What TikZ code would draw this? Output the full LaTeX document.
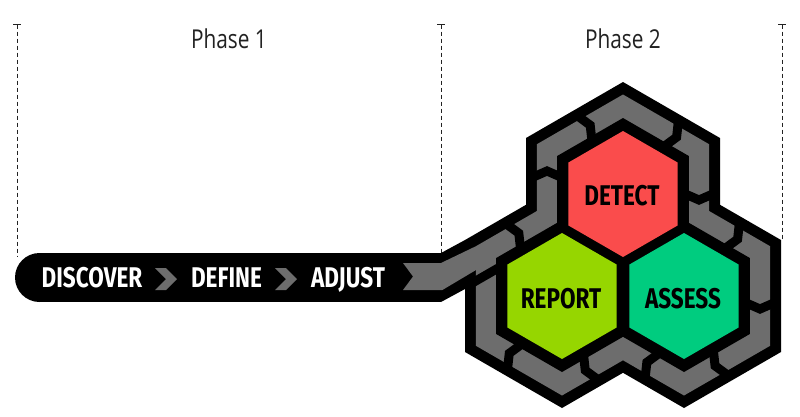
\documentclass[tikz,border=0pt]{standalone}
\usepackage{fontspec}
\newfontfamily\hexfont[FakeStretch=0.79]{Fira Sans}
\newfontfamily\phfont[FakeStretch=0.8]{Open Sans}
\usetikzlibrary{calc}
\definecolor{trackgray}{HTML}{6D6D6D}
\definecolor{detectred}{HTML}{FA4C4C}
\definecolor{reportlime}{HTML}{96D600}
\definecolor{assessgreen}{HTML}{00CC7F}
\definecolor{guide}{HTML}{222222}
\newcommand{\hexat}[2]{($(#1)+(-90:#2)$) -- ($(#1)+(-30:#2)$) -- ($(#1)+(30:#2)$) -- ($(#1)+(90:#2)$) -- ($(#1)+(150:#2)$) -- ($(#1)+(210:#2)$) -- cycle}
\newcommand{\trackbreak}[3]{\draw[brkline] ($(#1)+(#2:60)+(#2+90:#3)$) -- ($(#1)+(#2:76)+(#2+90:#3+7)$) -- ($(#1)+(#2:92)+(#2+90:#3)$);}
\tikzset{
  guideline/.style={draw=guide, line width=1pt, dash pattern=on 4pt off 3pt},
  guidecap/.style={draw=guide, line width=1pt},
  phaselabel/.style={font=\phfont\fontsize{26}{30}\selectfont, text=guide, anchor=base, inner sep=0pt},
  barlabel/.style={font=\hexfont\bfseries\fontsize{28.5}{30}\selectfont, text=white, anchor=base, inner sep=0pt},
  hexlabel/.style={font=\hexfont\bfseries\fontsize{28.5}{30}\selectfont, text=black, anchor=base, inner sep=0pt},
  brkline/.style={draw=black, line width=9pt, line join=miter},
  barchev/.style={fill=trackgray},
}
\begin{document}
\begin{tikzpicture}[x=1pt,y=-1pt]
\useasboundingbox[fill=white] (0,0) rectangle (800,416);
% centers
\coordinate (D) at (623,194);
\coordinate (R) at (562,296);
\coordinate (S) at (684,296);
% guide lines
\coordinate (g1t) at (17,24.5);  \coordinate (g1b) at (17,256);
\coordinate (g2t) at (441,24.5); \coordinate (g2b) at (441,256);
\coordinate (g3t) at (782,24.5); \coordinate (g3b) at (782,241);
\draw[guideline] (g1t) -- (g1b);
\draw[guideline] (g2t) -- (g2b);
\draw[guideline] (g3t) -- (g3b);
\draw[guidecap] ($(g1t)+(-4,0)$) -- ($(g1t)+(4,0)$);
\draw[guidecap] ($(g2t)+(-4,0)$) -- ($(g2t)+(4,0)$);
\draw[guidecap] ($(g3t)+(-4,0)$) -- ($(g3t)+(4,0)$);
\node[phaselabel] (ph1) at (229,48) {Phase 1};
\node[phaselabel] (ph2) at (623,48) {Phase 2};
% outer black body
\fill[black] \hexat{D}{112} \hexat{R}{112} \hexat{S}{112};
\fill[black] (39.5,277.5) circle[radius=24.5];
\fill[black] (39.5,253) rectangle (441,302);
\fill[black] (441,253) -- ($(R)+(210:112)$) -- ($(R)+(210:112)+(90:49)$) -- (441,302) -- cycle;
% gray track
\fill[trackgray] \hexat{D}{99.5} \hexat{R}{99.5} \hexat{S}{99.5};
\fill[trackgray] (403,263) -- (441,263) -- ($(R)+(210:99.5)$) -- ($(R)+(210:76)$) -- (442.4,290) -- (403,290) -- (413,276.5) -- cycle;
% chevrons in the bar
\fill[barchev] (155,268) -- (166,268) -- (177,279) -- (166,290) -- (155,290) -- (166,279) -- cycle;
\fill[barchev] (275,268) -- (286,268) -- (297,279) -- (286,290) -- (275,290) -- (286,279) -- cycle;
% breaks in the track
\trackbreak{R}{240}{-13}
\trackbreak{D}{180}{16}
\trackbreak{D}{240}{-1}
\trackbreak{D}{300}{11}
\trackbreak{D}{0}{-1}
\trackbreak{S}{300}{11}
\trackbreak{S}{0}{6}
\trackbreak{S}{60}{1}
\trackbreak{S}{120}{-8}
\trackbreak{R}{60}{10}
\trackbreak{R}{120}{10}
\draw[black, line width=9pt] ($(R)+(210:70)+(60:4.5)$) -- ($(R)+(210:70)+(60:4.5)+(150:40)$);
% inner black and coloured cells
\fill[black] \hexat{D}{76} \hexat{R}{76} \hexat{S}{76};
\fill[detectred] \hexat{D}{63};
\fill[reportlime] \hexat{R}{63};
\fill[assessgreen] \hexat{S}{63};
% labels
\node[barlabel] (discover) at (92,287) {DISCOVER};
\node[barlabel] (define) at (226.5,287) {DEFINE};
\node[barlabel] (adjust) at (348,287) {ADJUST};
\node[hexlabel] (detect) at (622,205) {DETECT};
\node[hexlabel] (report) at (561,308) {REPORT};
\node[hexlabel] (assess) at (683,308) {ASSESS};
\end{tikzpicture}
\end{document}
